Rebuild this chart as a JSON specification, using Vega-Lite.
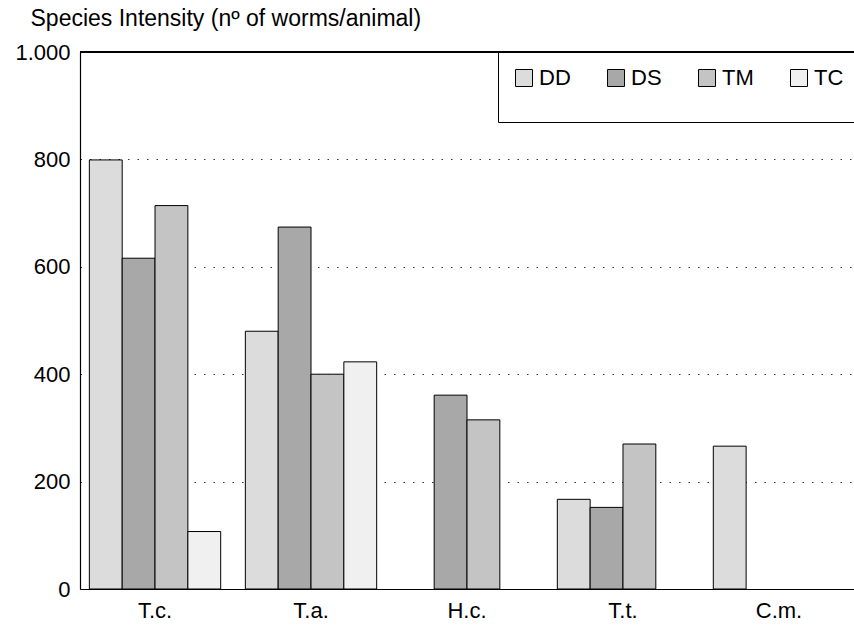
{
  "$schema": "https://vega.github.io/schema/vega-lite/v6.json",
  "width": 774,
  "height": 537,
  "autosize": {"type": "none"},
  "padding": {"left": 80, "top": 52, "right": 0, "bottom": 41},
  "background": "white",
  "config": {
    "view": {"stroke": null},
    "font": "Liberation Sans",
    "axis": {"labelFont": "Liberation Sans", "titleFont": "Liberation Sans", "labelColor": "black", "titleColor": "black"}
  },
  "data": {
    "values": [
      {"species": "T.c.", "group": "DD", "intensity": 799},
      {"species": "T.c.", "group": "DS", "intensity": 616},
      {"species": "T.c.", "group": "TM", "intensity": 714},
      {"species": "T.c.", "group": "TC", "intensity": 107},
      {"species": "T.a.", "group": "DD", "intensity": 480},
      {"species": "T.a.", "group": "DS", "intensity": 674},
      {"species": "T.a.", "group": "TM", "intensity": 400},
      {"species": "T.a.", "group": "TC", "intensity": 423},
      {"species": "H.c.", "group": "DS", "intensity": 361},
      {"species": "H.c.", "group": "TM", "intensity": 315},
      {"species": "T.t.", "group": "DD", "intensity": 167},
      {"species": "T.t.", "group": "DS", "intensity": 152},
      {"species": "T.t.", "group": "TM", "intensity": 270},
      {"species": "C.m.", "group": "DD", "intensity": 266}
    ]
  },
  "layer": [
    {
      "mark": {"type": "bar", "stroke": "black", "strokeWidth": 1},
      "encoding": {
        "x": {
          "field": "species", "type": "nominal",
          "sort": ["T.c.", "T.a.", "H.c.", "T.t.", "C.m."],
          "scale": {"paddingInner": 0.158, "paddingOuter": 0.06},
          "axis": {"title": null, "labelAngle": 0, "labelFontSize": 22, "labelPadding": 11, "ticks": false, "domainColor": "black", "domainWidth": 1.2}
        },
        "xOffset": {
          "field": "group", "type": "nominal",
          "scale": {"domain": ["DD", "DS", "TM", "TC"], "paddingInner": 0, "paddingOuter": 0}
        },
        "y": {
          "field": "intensity", "type": "quantitative",
          "scale": {"domain": [0, 1000], "nice": false},
          "axis": {
            "title": "Species Intensity (nº of worms/animal)",
            "titleAngle": 0, "titleAlign": "left", "titleBaseline": "middle",
            "titleX": -50, "titleY": -34, "titleFontSize": 23, "titleFontWeight": "normal",
            "values": [0, 200, 400, 600, 800, 1000],
            "labelExpr": "datum.value === 1000 ? '1.000' : datum.label",
            "labelFontSize": 22, "labelPadding": 10, "ticks": false,
            "domainColor": "black", "domainWidth": 1.2,
            "grid": true, "gridColor": "#333", "gridDash": [1.5, 8], "gridWidth": 1
          }
        },
        "fill": {
          "field": "group", "type": "nominal",
          "scale": {"domain": ["DD", "DS", "TM", "TC"], "range": ["#dcdcdc", "#a8a8a8", "#c4c4c4", "#f0f0f0"]},
          "legend": {
            "title": " ", "titleOrient": "bottom", "titleFontSize": 14, "titlePadding": 4,
            "orient": "none", "legendX": 418, "legendY": 0,
            "direction": "horizontal", "symbolType": "square", "symbolSize": 289,
            "symbolStrokeColor": "black", "symbolStrokeWidth": 1,
            "labelFontSize": 22, "labelOffset": 4, "labelColor": "black", "labelFont": "Liberation Sans",
            "columnPadding": 34, "padding": 15,
            "strokeColor": "black", "fillColor": "white"
          }
        }
      }
    },
    {
      "mark": {"type": "rule", "color": "black", "strokeWidth": 1.2},
      "encoding": {"y": {"datum": 1000}}
    }
  ]
}
